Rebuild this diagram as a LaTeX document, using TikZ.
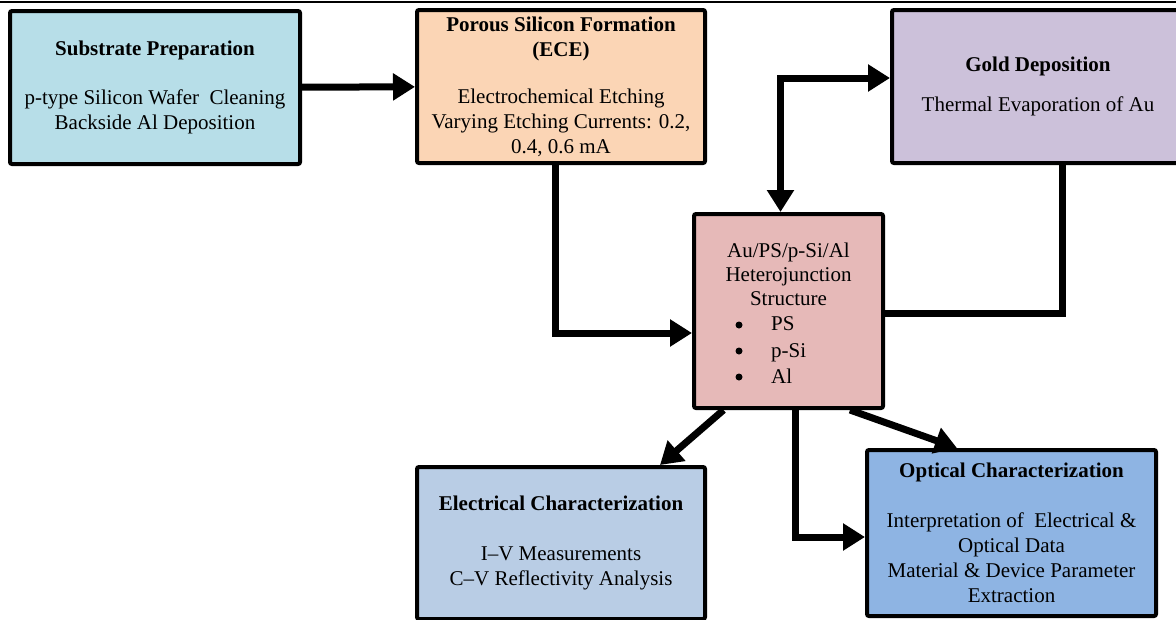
\documentclass[tikz,border=0pt]{standalone}
\usepackage{fontspec}
\setmainfont{Liberation Serif}
\usetikzlibrary{arrows.meta,calc}
\definecolor{cSub}{HTML}{B7DEE8}
\definecolor{cPor}{HTML}{FBD5B5}
\definecolor{cGold}{HTML}{CCC1DA}
\definecolor{cAu}{HTML}{E6B9B8}
\definecolor{cEle}{HTML}{B9CDE5}
\definecolor{cOpt}{HTML}{8EB4E3}
\begin{document}
\begin{tikzpicture}[x=1pt,y=1pt,
  box/.style={draw=black, line width=4pt, rounded corners=2pt, align=center, inner sep=0pt,
    font=\fontsize{21}{25}\selectfont},
  txt/.style={inner sep=0pt, font=\fontsize{21}{24}\selectfont},
  dot/.style={circle, fill=black, inner sep=0pt, minimum size=7pt},
  flow/.style={line width=7pt, -{Triangle[length=22pt,width=26pt]}},
  link/.style={line width=7pt}]
\useasboundingbox (0,0) rectangle (1176,-619);
\draw[line width=2.5pt] (0,-2) -- (1176,-2);

\node[box, fill=cSub, minimum width=290, minimum height=153] (b1) at (155,-87.5)
  {\textbf{Substrate Preparation}\\[24pt]p-type Silicon Wafer\ \ Cleaning\\Backside Al Deposition};
\node[box, fill=cPor, minimum width=288, minimum height=153] (b2) at (561,-86.5)
  {\textbf{Porous Silicon Formation}\\\textbf{(ECE)}\\[22pt]Electrochemical Etching\\Varying Etching Currents: 0.2,\\0.4, 0.6 mA};
\node[box, fill=cGold, minimum width=292, minimum height=153] (b3) at (1038,-86.5)
  {\textbf{Gold Deposition}\\[15pt]Thermal Evaporation of Au};
\node[box, fill=cAu, minimum width=189, minimum height=194] (au) at (788.5,-311) {};
\node[txt, align=center] (auh) at (788.5,-274) {Au/PS/p-Si/Al\\Heterojunction\\Structure};
\node[dot] (d1) at (739,-325) {};
\node[txt, anchor=base west] (l1) at (771,-330) {PS};
\node[dot] (d2) at (739,-351) {};
\node[txt, anchor=base west] (l2) at (771,-357) {p-Si};
\node[dot] (d3) at (739,-377) {};
\node[txt, anchor=base west] (l3) at (771,-383) {Al};
\node[box, fill=cEle, minimum width=288, minimum height=152] (b5) at (561,-543)
  {\textbf{Electrical Characterization}\\[25pt]I–V Measurements\\C–V Reflectivity Analysis};
\node[box, fill=cOpt, minimum width=289, minimum height=166] (b6) at (1011.5,-533)
  {\textbf{Optical Characterization}\\[25pt]Interpretation of\ \ Electrical \&\\Optical Data\\Material \& Device Parameter\\Extraction};

\draw[flow] (b1) -- (b2);
\draw[flow] ([xshift=-6pt]b2.south) |- ([yshift=-22pt]au.west);
\draw[line width=7pt, {Triangle[length=22pt,width=26pt]}-{Triangle[length=22pt,width=26pt]}]
  ([xshift=-8pt]au.north) |- ([yshift=8.5pt]b3.west);
\draw[link] ([xshift=24pt]b3.south) |- ([yshift=-2pt]au.east);
\draw[flow] ([xshift=-65pt]au.south) -- ([xshift=99pt]b5.north);
\draw[flow] ([xshift=6.5pt]au.south) |- ([yshift=-4pt]b6.west);
\draw[flow] ([xshift=61.5pt]au.south) -- ([xshift=-54.5pt]b6.north);
\end{tikzpicture}
\end{document}
